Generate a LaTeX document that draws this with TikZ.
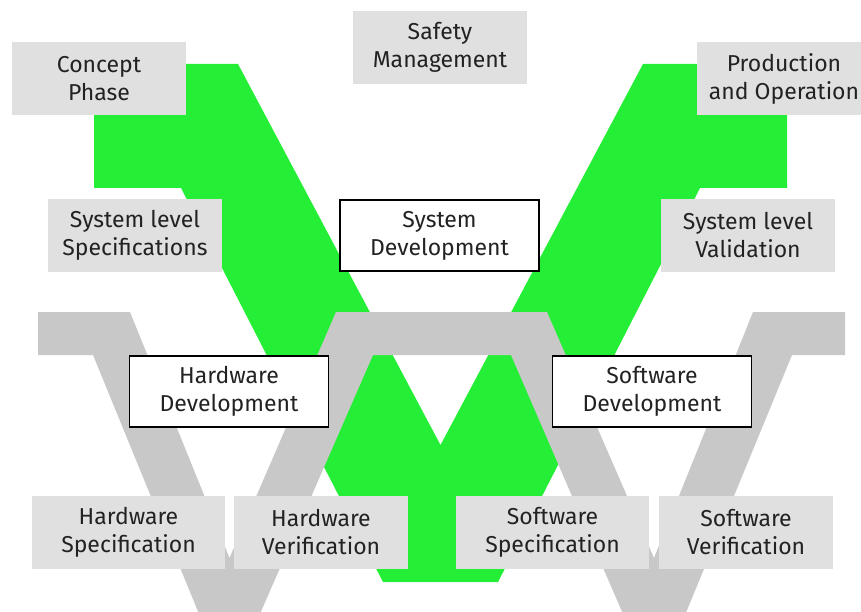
\documentclass[tikz,border=0pt]{standalone}
\usepackage{fontspec}
\setmainfont{Fira Sans}
\definecolor{vgreen}{RGB}{36,238,54}
\definecolor{vgrey}{RGB}{200,200,200}
\definecolor{boxgrey}{RGB}{224,224,224}
\definecolor{ink}{RGB}{34,34,34}

\begin{document}
\begin{tikzpicture}[x=1pt,y=-1pt]
	\fontsize{23}{28}\selectfont
	\def \toprow{47.5}
	\def \rowone{79}
	\def \rowtwo{235.5}
	\def \rowthree{391.5}
	\def \rowfour{532.5}

	\tikzstyle{phase}=[fill=boxgrey,text=ink,align=center,inner sep=0pt,minimum width=174,minimum height=73]
	\tikzstyle{dev}=[phase,fill=white,draw=black,line width=1.6pt,minimum width=199,minimum height=71]

	\useasboundingbox (0,0) rectangle (861,612);

	% safety lifecycle V
	\fill[vgreen] (94,64) -- (238,64) -- (440.5,445) -- (643,64) -- (787,64) -- (787,188) -- (700,188)
		-- (498,582) -- (383,582) -- (181,188) -- (94,188) -- cycle;
	% hardware and software V
	\fill[vgrey] (38,312) -- (130,312) -- (229.5,558) -- (336,312) -- (547,312) -- (654,558) -- (753,312)
		-- (845,312) -- (845,355) -- (792,355) -- (655,688) -- (511,355) -- (373,355) -- (228.5,686)
		-- (93,355) -- (38,355) -- cycle;

	% system level
	\node[phase] 	(safety)	at (440,\toprow)	{Safety\\Management};
	\node[phase] 	(concept)	at (99,\rowone)		{Concept\\Phase};
	\node[phase] 	(production)	at (784,\rowone)	{Production\\and Operation};
	\node[phase] 	(sysspec)	at (135,\rowtwo)	{System level\\Specifications};
	\node[dev]	(sysdev)	at (439.5,\rowtwo)	{System\\Development};
	\node[phase] 	(sysval)	at (748,\rowtwo)	{System level\\Validation};

	% hardware and software level
	\node[dev]	(hwdev)		at (229,\rowthree)	{Hardware\\Development};
	\node[dev]	(swdev)		at (652,\rowthree)	{Software\\Development};
	\node[phase,minimum width=193]	(hwspec)	at (128.5,\rowfour)	{Hardware\\Specification};
	\node[phase] 	(hwver)		at (321,\rowfour)	{Hardware\\Verification};
	\node[phase,minimum width=193]	(swspec)	at (552.5,\rowfour)	{Software\\Specification};
	\node[phase] 	(swver)		at (746,\rowfour)	{Software\\Verification};
\end{tikzpicture}
\end{document}
